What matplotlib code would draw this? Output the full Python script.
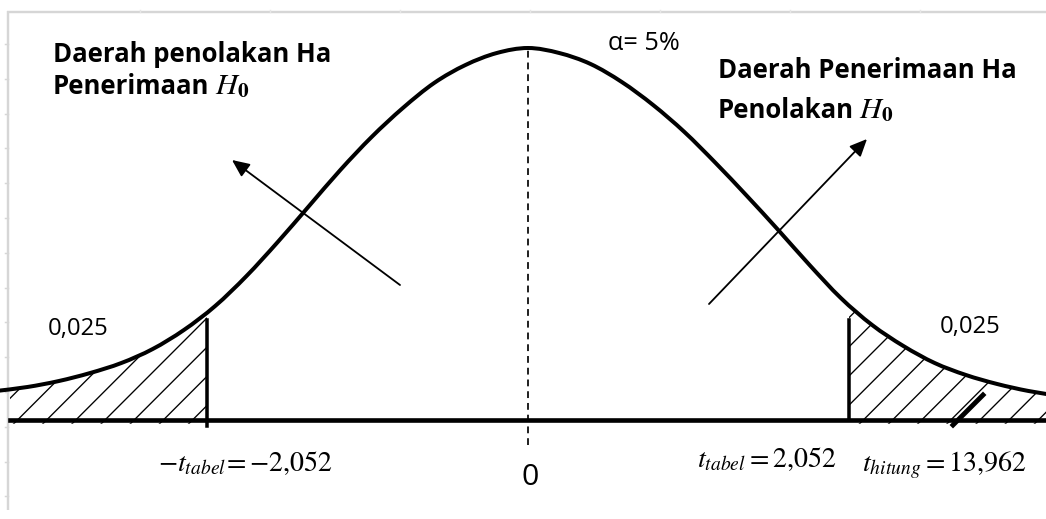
import matplotlib
matplotlib.use("Agg")
import matplotlib.pyplot as plt
from matplotlib.patches import Rectangle, PathPatch
from matplotlib.path import Path
from matplotlib.transforms import Affine2D

# ---- data ----
curve_t = [-3.4, -3.2, -3.0, -2.8, -2.6, -2.4, -2.2, -2.0, -1.8, -1.6, -1.4, -1.2,
           -1.0, -0.8, -0.6, -0.4, -0.2, 0.0, 0.2, 0.4, 0.6, 0.8, 1.0, 1.2, 1.4,
           1.6, 1.8, 2.0, 2.2, 2.4, 2.6, 2.8, 3.0, 3.2, 3.4]
curve_y = [0.0312, 0.0355, 0.0419, 0.0505, 0.0613, 0.0763, 0.0968, 0.1226, 0.1548,
           0.1914, 0.2301, 0.2688, 0.3043, 0.3355, 0.3624, 0.3817, 0.3946, 0.4000,
           0.3946, 0.3828, 0.3634, 0.3387, 0.3097, 0.2763, 0.2409, 0.2043, 0.1667,
           0.1312, 0.1022, 0.0796, 0.0613, 0.0484, 0.0387, 0.0312, 0.0258]
t_tabel = 2.052
t_hitung = 13.962
tail_area = "0,025"
alpha_label = "α= 5%"
left_title = ["Daerah penolakan Ha", "Penerimaan", r"$H_\mathbf{0}$"]
right_title = ["Daerah Penerimaan Ha", "Penolakan", r"$H_\mathbf{0}$"]
center_label = "0"


def comma(v):
    return f"{v:.3f}".replace(".", "{,}")


def smooth_path(xs, ys, close_to=None):
    """Catmull-Rom spline through the points, drawn as cubic Bezier path."""
    pts = list(zip(xs, ys))
    n = len(pts)
    verts = [pts[0]]
    codes = [Path.MOVETO]
    for i in range(n - 1):
        p0 = pts[i - 1] if i > 0 else pts[i]
        p1 = pts[i]
        p2 = pts[i + 1]
        p3 = pts[i + 2] if i + 2 < n else pts[i + 1]
        c1 = (p1[0] + (p2[0] - p0[0]) / 6, p1[1] + (p2[1] - p0[1]) / 6)
        c2 = (p2[0] - (p3[0] - p1[0]) / 6, p2[1] - (p3[1] - p1[1]) / 6)
        verts += [c1, c2, p2]
        codes += [Path.CURVE4] * 3
    if close_to is not None:
        verts += [(xs[-1], close_to), (xs[0], close_to), pts[0]]
        codes += [Path.LINETO, Path.LINETO, Path.CLOSEPOLY]
    return Path(verts, codes)


plt.rcParams["font.family"] = ["Open Sans", "DejaVu Sans"]
plt.rcParams["mathtext.fontset"] = "stix"
plt.rcParams["hatch.linewidth"] = 0.55

W, H, DPI = 1046, 519, 175
fig = plt.figure(figsize=(W / DPI, H / DPI), dpi=DPI)
ax = fig.add_axes([0, 0, 1, 1])
X0, SX, Y0, SY = 528, 156.4, 420, 930
ax.set_xlim(-X0 / SX, (W - X0) / SX)
ax.set_ylim((Y0 - H) / SY, Y0 / SY)
ax.axis("off")
pix = Affine2D().scale(1 / W, -1 / H).translate(0, 1) + ax.transAxes

# gray frame (top and left) with small ticks
grey = "#d6d6d6"
ax.plot([7, W], [11.5, 11.5], color=grey, lw=1.0, transform=pix, solid_capstyle="butt")
ax.plot([7.5, 7.5], [11, 510], color=grey, lw=1.0, transform=pix, solid_capstyle="butt")
for k in range(14):
    yy = 44 + 34.8 * k
    ax.plot([5, 8], [yy, yy], color=grey, lw=0.6, transform=pix)
for k in range(8):
    xx = 140 + 130 * k
    ax.plot([xx, xx], [10, 12], color="#e6e6e6", lw=0.6, transform=pix)

# hatched tails
x_left_edge = (10 - X0) / SX
for lo, hi in [(x_left_edge, -t_tabel), (t_tabel, curve_t[-1])]:
    patch = PathPatch(smooth_path(curve_t, curve_y, close_to=-0.004),
                      facecolor="none", edgecolor="black", hatch="//",
                      linewidth=0, zorder=2)
    ax.add_patch(patch)
    patch.set_clip_path(Rectangle((lo, -0.02), hi - lo, 0.6, transform=ax.transData))

# curve
ax.add_patch(PathPatch(smooth_path(curve_t, curve_y), fill=False,
                       edgecolor="black", lw=1.65, zorder=4))
# baseline
ax.axhline(0, xmin=10 / W, xmax=1, color="black", lw=1.9, zorder=4)
# critical lines
ax.plot([-t_tabel, -t_tabel], [-0.0065, 0.1075], color="black", lw=1.45, zorder=5)
ax.plot([t_tabel, t_tabel], [0, 0.1075], color="black", lw=1.45, zorder=5)
# centre dashed line
ax.plot([0, 0], [-0.027, max(curve_y)], color="black", lw=0.7,
        ls=(0, (4.0, 2.9)), zorder=3)
# t_hitung marker
ax.plot([953, 983], [425, 395], color="black", lw=2.0, transform=pix, zorder=5)

# arrows
aprops = dict(arrowstyle="-|>,head_length=0.6,head_width=0.27", lw=0.75,
              color="black", mutation_scale=10, shrinkA=0, shrinkB=0)
ax.annotate("", xy=(232, 160), xytext=(400, 285), xycoords=pix, textcoords=pix,
            arrowprops=aprops)
ax.annotate("", xy=(867, 139), xytext=(709, 304), xycoords=pix, textcoords=pix,
            arrowprops=aprops)

# texts
tk = dict(transform=pix, va="baseline", ha="left", color="black")
hs = 10.6
ax.text(53, 62, left_title[0], fontsize=hs, fontweight="bold", **tk)
t1 = ax.text(53, 94, left_title[1], fontsize=hs, fontweight="bold", **tk)
ax.annotate(left_title[2], xy=(1, 94), xycoords=(t1, pix), xytext=(2.5, 0),
            textcoords="offset points", fontsize=12.5, va="baseline", ha="left")
ax.text(718, 78, right_title[0], fontsize=hs, fontweight="bold", **tk)
t2 = ax.text(718, 118, right_title[1], fontsize=hs, fontweight="bold", **tk)
ax.annotate(right_title[2], xy=(1, 118), xycoords=(t2, pix), xytext=(2, 0),
            textcoords="offset points", fontsize=12.5, va="baseline", ha="left")
ax.text(608, 50, alpha_label, fontsize=10.4, **tk)
ax.text(48, 335, tail_area, fontsize=9.8, **tk)
ax.text(940, 333, tail_area, fontsize=9.8, **tk)
ax.text(158, 471, rf"$-t_{{tabel}}\!=-{comma(t_tabel)}$", fontsize=11.5, **tk)
ax.text(697, 467, rf"$t_{{tabel}}={comma(t_tabel)}$", fontsize=11.5, **tk)
ax.text(862, 471, rf"$t_{{hitung}}={comma(t_hitung)}$", fontsize=11.5, **tk)
ax.text(530, 485, center_label, fontsize=12.5, transform=pix, ha="center",
        va="baseline")

fig.savefig("out.png", dpi=DPI, facecolor="white")
